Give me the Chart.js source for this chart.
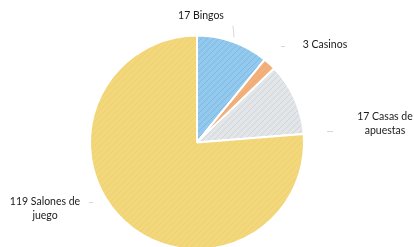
<!DOCTYPE html>
<html>
<head>
<meta charset="utf-8">
<script src="https://cdn.jsdelivr.net/npm/chart.js@4"></script>
<style>
  html, body { margin: 0; padding: 0; background: #fff; overflow: hidden; }
  #wrap { width: 415px; height: 262px; position: relative; }
</style>
</head>
<body>
<div id="wrap"><canvas id="myChart"></canvas></div>
<script>
// datos
const categorias = ['Bingos', 'Casinos', 'Casas de apuestas', 'Salones de juego'];
const valores = [17, 3, 17, 119];
const etiquetas = [['17 Bingos'], ['3 Casinos'], ['17 Casas de', 'apuestas'], ['119 Salones de', 'juego']];
const colores = ['#92c9ec', '#f2b07c', '#e3e6e8', '#f3d77b'];

// textura de lapiz suave
function trama(base, linea) {
  let c = document.createElement('canvas');
  c.width = 6; c.height = 6;
  let g = c.getContext('2d');
  g.fillStyle = base;
  g.fillRect(0, 0, 6, 6);
  g.strokeStyle = linea;
  g.lineWidth = 1;
  g.beginPath();
  g.moveTo(0, 6); g.lineTo(6, 0);
  g.moveTo(-3, 3); g.lineTo(3, -3);
  g.moveTo(3, 9); g.lineTo(9, 3);
  g.stroke();
  return g.createPattern(c, 'repeat');
}
const lineasTrama = ['rgba(60,140,200,0.25)', 'rgba(230,140,80,0.2)', 'rgba(140,150,160,0.22)', 'rgba(225,185,80,0.22)'];

// donde va cada etiqueta (respecto al centro de la tarta)
const posEtiquetas = [[4, -127], [128, -98], [188, -26], [-152, 59]];

const etiquetasPlugin = {
  id: 'etiquetas',
  afterDatasetsDraw(chart) {
    let ctx = chart.ctx;
    let arco = chart.getDatasetMeta(0).data[0];
    let cx = arco.x, cy = arco.y;
    ctx.save();
    ctx.font = '10.5px Lato';
    ctx.fillStyle = '#1a1a1a';
    ctx.textAlign = 'center';
    ctx.textBaseline = 'middle';
    etiquetas.forEach((lineas, i) => {
      let x = cx + posEtiquetas[i][0];
      let y = cy + posEtiquetas[i][1];
      lineas.forEach((t, j) => ctx.fillText(t, x, y + j * 14));
    });
    // lineas guia muy tenues
    ctx.strokeStyle = 'rgba(160,160,160,0.4)';
    ctx.lineWidth = 1;
    ctx.beginPath();
    ctx.moveTo(cx + 36, cy - 117); ctx.lineTo(cx + 37, cy - 105);
    ctx.moveTo(cx + 84, cy - 96); ctx.lineTo(cx + 88, cy - 96);
    ctx.moveTo(cx + 130, cy - 11); ctx.lineTo(cx + 136, cy - 11);
    ctx.moveTo(cx - 108, cy + 60); ctx.lineTo(cx - 104, cy + 60);
    ctx.stroke();
    ctx.restore();
  }
};

new Chart(document.getElementById('myChart'), {
  type: 'pie',
  data: {
    labels: categorias,
    datasets: [{
      data: valores,
      backgroundColor: colores.map((c, i) => trama(c, lineasTrama[i])),
      borderColor: '#ffffff',
      borderWidth: 2
    }]
  },
  options: {
    responsive: true,
    maintainAspectRatio: false,
    animation: false,
    layout: { padding: { left: 89, right: 110, top: 34, bottom: 11 } },
    plugins: {
      legend: { display: false },
      tooltip: { enabled: false }
    }
  },
  plugins: [etiquetasPlugin]
});
</script>
</body>
</html>
